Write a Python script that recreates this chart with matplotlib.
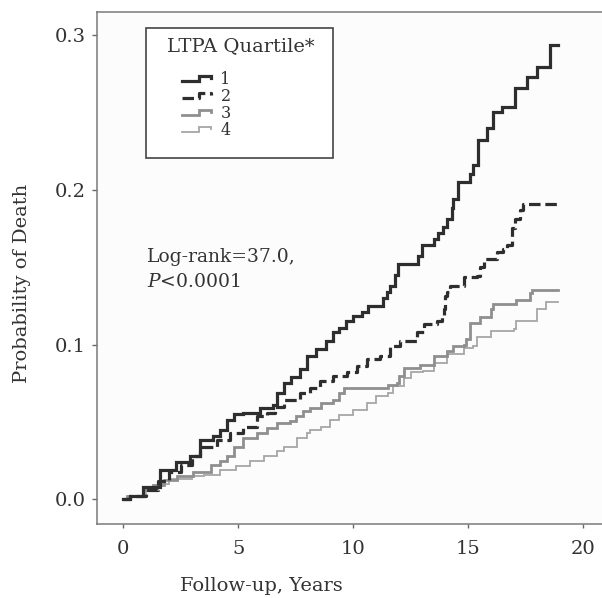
import matplotlib
matplotlib.use("Agg")
import matplotlib.pyplot as plt
from matplotlib.lines import Line2D
from matplotlib.legend_handler import HandlerLine2D
from matplotlib.patches import Rectangle

plt.rcParams['font.family'] = ['DejaVu Serif']
plt.rcParams['mathtext.fontset'] = 'dejavuserif'

# ---- data ----
labels = ["1", "2", "3", "4"]

q1_t = [0, 0.3, 0.87, 1.6, 2.3, 2.9, 3.35, 3.9, 4.2, 4.5, 4.8, 5.2, 5.96, 6.5, 6.7, 7.0, 7.3, 7.7,
        8.0, 8.4, 8.8, 9.1, 9.4, 9.7, 10.0, 10.4, 10.65, 11.3, 11.45, 11.6, 11.8, 11.96, 12.83, 13.0,
        13.5, 13.7, 13.9, 14.07, 14.3, 14.35, 14.57, 15.1, 15.2, 15.45, 15.8, 16.1, 16.47, 17.04,
        17.55, 17.99, 18.57, 18.93]
q1_p = [0, 0.002, 0.008, 0.019, 0.024, 0.028, 0.0386, 0.041, 0.045, 0.0516, 0.055, 0.056, 0.059,
        0.061, 0.069, 0.0755, 0.079, 0.084, 0.0926, 0.097, 0.102, 0.108, 0.111, 0.1153, 0.1186,
        0.121, 0.125, 0.13, 0.134, 0.138, 0.145, 0.152, 0.157, 0.164, 0.168, 0.172, 0.176, 0.181,
        0.188, 0.194, 0.205, 0.21, 0.216, 0.232, 0.2397, 0.2505, 0.2537, 0.2656, 0.2726, 0.279,
        0.2937, 0.2937]

q2_t = [0, 0.3, 1.0, 1.5, 2.0, 2.5, 3.0, 3.35, 4.07, 4.65, 5.2, 5.8, 6.25, 6.6, 6.97, 7.7, 8.13,
        8.57, 9.14, 9.73, 10.16, 10.6, 11.17, 11.6, 12.04, 12.77, 13.06, 13.64, 13.85, 13.93, 14.0,
        14.07, 14.2, 14.8, 15.4, 15.5, 15.67, 16.25, 16.5, 16.7, 16.9, 17.04, 17.26, 17.4, 18.93]
q2_p = [0, 0.002, 0.006, 0.012, 0.018, 0.022, 0.028, 0.034, 0.0386, 0.043, 0.047, 0.0537, 0.056,
        0.06, 0.0645, 0.069, 0.0721, 0.0764, 0.0797, 0.082, 0.086, 0.0905, 0.0926, 0.099, 0.1024,
        0.108, 0.1132, 0.1153, 0.1186, 0.123, 0.1316, 0.134, 0.138, 0.1435, 0.1445, 0.15, 0.155,
        0.16, 0.162, 0.164, 0.175, 0.181, 0.1867, 0.1906, 0.1906]

q3_t = [0, 0.15, 0.87, 1.3, 1.75, 2.33, 3.05, 3.8, 4.2, 4.5, 4.8, 5.2, 5.8, 6.25, 6.7, 7.26, 7.5,
        7.8, 8.1, 8.6, 9.1, 9.4, 9.6, 11.5, 11.9, 12.0, 12.2, 12.9, 13.5, 14.07, 14.35, 14.8, 14.9,
        15.1, 15.5, 16.0, 16.1, 17.1, 17.7, 17.8, 18.93]
q3_p = [0, 0.002, 0.006, 0.009, 0.0126, 0.0148, 0.018, 0.0224, 0.025, 0.028, 0.034, 0.0397, 0.043,
        0.046, 0.0494, 0.0505, 0.054, 0.057, 0.059, 0.0624, 0.0645, 0.069, 0.072, 0.074, 0.0755,
        0.0797, 0.085, 0.087, 0.0926, 0.096, 0.099, 0.0995, 0.1035, 0.114, 0.1175, 0.123, 0.126,
        0.129, 0.133, 0.135, 0.135]

q4_t = [0, 0.3, 1.0, 1.5, 2.0, 3.0, 3.5, 4.2, 4.9, 5.5, 6.1, 6.7, 7.0, 7.55, 8.0, 8.1, 8.6, 9.0,
        9.4, 10.0, 10.6, 11.0, 11.5, 11.75, 12.2, 12.5, 13.05, 13.5, 14.07, 14.8, 15.2, 15.4, 16.0,
        17.0, 17.1, 18.0, 18.4, 18.93]
q4_p = [0, 0.002, 0.007, 0.01, 0.013, 0.015, 0.016, 0.019, 0.0213, 0.0245, 0.028, 0.031, 0.034,
        0.0397, 0.043, 0.045, 0.047, 0.0516, 0.0548, 0.058, 0.0624, 0.0667, 0.069, 0.073, 0.0786,
        0.082, 0.083, 0.088, 0.0937, 0.098, 0.099, 0.1046, 0.1088, 0.11, 0.1153, 0.123, 0.1277,
        0.1277]

x_ticks = [0, 5, 10, 15, 20]
y_ticks = [0.0, 0.1, 0.2, 0.3]
y_tick_labels = ["0.0", "0.1", "0.2", "0.3"]

# ---- figure ----
fig = plt.figure(figsize=(6.02, 5.98), dpi=100)
fig.patch.set_facecolor("white")
ax = fig.add_axes([0.1616, 0.1232, 1.0105 - 0.1616, 0.8572])
ax.set_facecolor("#fcfcfc")

styles = [
    dict(color="#2e2e2e", lw=2.3, ls="-"),
    dict(color="#2e2e2e", lw=2.3, ls=(0, (3.6, 1.5))),
    dict(color="#8f8f8f", lw=2.0, ls="-"),
    dict(color="#a6a6a6", lw=1.3, ls="-"),
]
series = [(q1_t, q1_p), (q2_t, q2_p), (q3_t, q3_p), (q4_t, q4_p)]
handles = []
for (t, p), st, lab in zip(series[::-1], styles[::-1], labels[::-1]):
    h, = ax.plot(t, p, drawstyle="steps-post", color=st["color"], lw=st["lw"],
                 linestyle=st["ls"], label=lab, solid_joinstyle="miter")
    handles.append(h)
handles = handles[::-1]

ax.set_xlim(-1.134, 21.1)
ax.set_ylim(-0.0161, 0.315)
ax.set_xticks(x_ticks)
ax.set_yticks(y_ticks)
ax.set_yticklabels(y_tick_labels)

for s in ["left", "bottom", "top", "right"]:
    ax.spines[s].set_color("#7a7a7a")
    ax.spines[s].set_linewidth(1.1)

ax.tick_params(axis="x", length=3, width=1, color="#666666", labelsize=14, pad=8, labelcolor="#333333")
ax.tick_params(axis="y", length=3.6, width=1, color="#666666", labelsize=14, pad=4.5, labelcolor="#333333")

ax.set_xlabel("Follow-up, Years", fontsize=14, color="#333333")
ax.xaxis.set_label_coords(0.322, -0.102)
ax.set_ylabel("Probability of Death", fontsize=14, color="#333333")
ax.yaxis.set_label_coords(-0.13, 0.47)

# annotation
ax.text(1.03, 0.1533, "Log-rank=37.0,", fontsize=13.5, color="#333333", va="baseline", ha="left")
ax.text(1.03, 0.1373, r"$\mathit{P}$<0.0001", fontsize=13.5, color="#333333", va="baseline", ha="left")

# legend box
ax.add_patch(Rectangle((0.0953, 0.7146), 0.366, 0.2536, transform=ax.transAxes,
                       facecolor="white", edgecolor="#444444", lw=1.2, zorder=5))
ax.text(0.281, 0.932, "LTPA Quartile*", transform=ax.transAxes, fontsize=14,
        ha="center", va="center", color="#333333", zorder=6)


class StepHandler(HandlerLine2D):
    def create_artists(self, legend, orig_handle, xdescent, ydescent, width, height, fontsize, trans):
        x0 = -xdescent
        x1 = x0 + width
        ym = height / 2.0 - ydescent
        xm = x0 + width * 0.55
        xs = [x0, xm, xm, x1 - width * 0.05, x1 - width * 0.05]
        ys = [ym - height * 0.22, ym - height * 0.22, ym + height * 0.22, ym + height * 0.22, ym + height * 0.05]
        line = Line2D(xs, ys)
        self.update_prop(line, orig_handle, legend)
        line.set_transform(trans)
        return [line]


leg = ax.legend(handles=handles, labels=labels, loc="upper left",
                bbox_to_anchor=(0.166, 0.884), frameon=False, fontsize=11.5,
                handlelength=1.9, handletextpad=0.5, labelspacing=0.0,
                borderpad=0, borderaxespad=0,
                handler_map={Line2D: StepHandler()})
leg.set_zorder(7)
for txt in leg.get_texts():
    txt.set_color("#333333")

fig.savefig("out.png", dpi=100)
